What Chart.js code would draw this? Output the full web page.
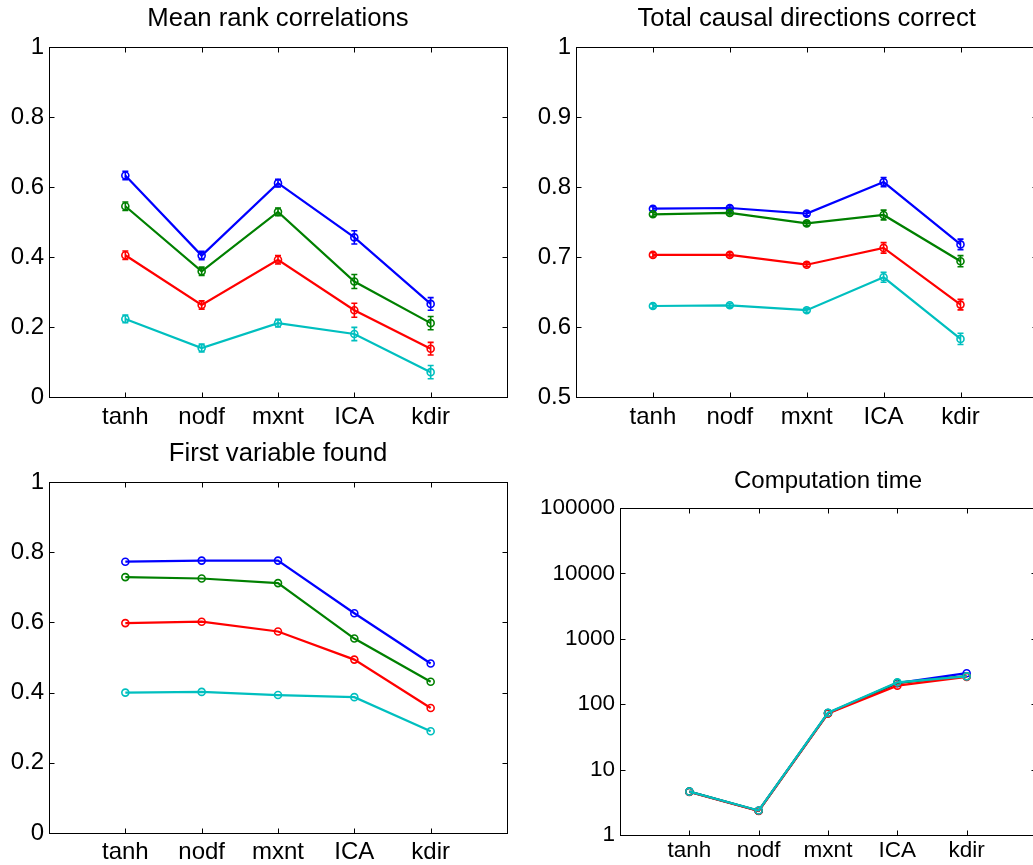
<!DOCTYPE html>
<html>
<head>
<meta charset="utf-8">
<script src="https://cdn.jsdelivr.net/npm/chart.js@4.4.0/dist/chart.umd.min.js"></script>
<style>
html,body{margin:0;padding:0;background:#fff;overflow:hidden;width:1033px;height:865px;position:relative;}
canvas{position:absolute;display:block;}
</style>
</head>
<body>
<canvas id="c1" width="520" height="430" style="left:0px;top:0px;width:520px;height:430px"></canvas>
<canvas id="c2" width="530" height="430" style="left:513px;top:0px;width:530px;height:430px"></canvas>
<canvas id="c3" width="520" height="435" style="left:0px;top:430px;width:520px;height:435px"></canvas>
<canvas id="c4" width="530" height="435" style="left:513px;top:430px;width:530px;height:435px"></canvas>
<script>
// ---------------- data ----------------
const categories = ['tanh', 'nodf', 'mxnt', 'ICA', 'kdir'];

// Mean rank correlations
const rankBlue  = [0.633, 0.404, 0.611, 0.456, 0.266];
const rankGreen = [0.545, 0.359, 0.529, 0.330, 0.211];
const rankRed   = [0.405, 0.263, 0.392, 0.248, 0.138];
const rankCyan  = [0.223, 0.140, 0.211, 0.180, 0.071];
const rankBlueErr  = [0.012, 0.012, 0.011, 0.019, 0.018];
const rankGreenErr = [0.012, 0.012, 0.011, 0.020, 0.019];
const rankRedErr   = [0.012, 0.012, 0.012, 0.020, 0.018];
const rankCyanErr  = [0.011, 0.011, 0.011, 0.019, 0.019];
const rankTicks = [0, 0.2, 0.4, 0.6, 0.8, 1];

// Total causal directions correct
const causalBlue  = [0.769, 0.770, 0.762, 0.807, 0.718];
const causalGreen = [0.761, 0.763, 0.748, 0.760, 0.694];
const causalRed   = [0.703, 0.703, 0.689, 0.713, 0.632];
const causalCyan  = [0.630, 0.631, 0.624, 0.671, 0.583];
const causalBlueErr  = [0.003, 0.003, 0.003, 0.0065, 0.0075];
const causalGreenErr = [0.003, 0.003, 0.003, 0.007, 0.008];
const causalRedErr   = [0.003, 0.003, 0.003, 0.0075, 0.0075];
const causalCyanErr  = [0.003, 0.003, 0.003, 0.007, 0.008];
const causalTicks = [0.5, 0.6, 0.7, 0.8, 0.9, 1];

// First variable found
const firstBlue  = [0.773, 0.776, 0.776, 0.626, 0.483];
const firstGreen = [0.729, 0.725, 0.712, 0.554, 0.431];
const firstRed   = [0.598, 0.602, 0.574, 0.494, 0.356];
const firstCyan  = [0.400, 0.402, 0.393, 0.387, 0.290];
const firstTicks = [0, 0.2, 0.4, 0.6, 0.8, 1];

// Computation time
const timeBlue  = [4.6, 2.35, 73, 210, 298];
const timeGreen = [4.6, 2.35, 73, 212, 268];
const timeRed   = [4.55, 2.33, 72, 192, 262];
const timeCyan  = [4.6, 2.37, 74, 216, 266];
const timeTicks = [1, 10, 100, 1000, 10000, 100000];

// ---------------- styling ----------------
const COLORS = ['#0000ff', '#008000', '#ff0000', '#00bfbf'];
const FONT = "'Liberation Sans', Helvetica, Arial, sans-serif";
Chart.defaults.color = '#000';
Chart.defaults.font.family = FONT;

const boxPlugin = {
  id: 'matlabBox',
  beforeDatasetsDraw(chart) {
    const ctx = chart.ctx, a = chart.chartArea, x = chart.scales.x, y = chart.scales.y;
    ctx.save();
    ctx.strokeStyle = '#000';
    ctx.lineWidth = 1;
    const L = Math.round(a.left) + 0.5, R = Math.round(a.right) + 0.5;
    const T = Math.round(a.top) + 0.5, B = Math.round(a.bottom) + 0.5;
    ctx.strokeRect(L, T, R - L, B - T);
    const tl = 5;
    ctx.beginPath();
    x.ticks.forEach(t => {
      const px = Math.round(x.getPixelForValue(t.value)) + 0.5;
      ctx.moveTo(px, B); ctx.lineTo(px, B - tl);
      ctx.moveTo(px, T); ctx.lineTo(px, T + tl);
    });
    y.ticks.forEach(t => {
      const py = Math.round(y.getPixelForValue(t.value)) + 0.5;
      ctx.moveTo(L, py); ctx.lineTo(L + tl, py);
      ctx.moveTo(R, py); ctx.lineTo(R - tl, py);
    });
    ctx.stroke();
    ctx.restore();
  }
};

const errorBarPlugin = {
  id: 'errorBars',
  afterDatasetDraw(chart, args) {
    const ds = chart.data.datasets[args.index];
    if (!ds.errors) return;
    const ctx = chart.ctx, y = chart.scales.y;
    ctx.save();
    ctx.strokeStyle = ds.borderColor;
    ctx.lineWidth = 1.6;
    ctx.beginPath();
    args.meta.data.forEach((pt, i) => {
      const v = ds.data[i].y, e = ds.errors[i];
      const y1 = y.getPixelForValue(v + e), y2 = y.getPixelForValue(v - e);
      const cx = pt.x, w = 3;
      ctx.moveTo(cx, y1); ctx.lineTo(cx, y2);
      ctx.moveTo(cx - w, y1); ctx.lineTo(cx + w, y1);
      ctx.moveTo(cx - w, y2); ctx.lineTo(cx + w, y2);
    });
    ctx.stroke();
    ctx.restore();
  }
};

function makeDatasets(seriesList, errList) {
  return seriesList.map((vals, k) => ({
    data: vals.map((v, i) => ({ x: i + 1, y: v })),
    errors: errList ? errList[k] : null,
    order: seriesList.length - k,
    borderColor: COLORS[k],
    backgroundColor: COLORS[k],
    borderWidth: 2.2,
    pointRadius: 3.5,
    pointBorderWidth: 1.6,
    pointBackgroundColor: 'rgba(0,0,0,0)',
    pointBorderColor: COLORS[k],
    tension: 0,
    fill: false
  }));
}

function makePanel(id, opt) {
  new Chart(document.getElementById(id), {
    type: 'line',
    data: { datasets: makeDatasets(opt.series, opt.errors) },
    options: {
      responsive: false,
      animation: false,
      devicePixelRatio: 1,
      layout: { padding: { left: 0, top: 0, bottom: 0, right: opt.padRight } },
      plugins: {
        legend: { display: false },
        tooltip: { enabled: false },
        title: {
          display: true,
          text: opt.title,
          color: '#000',
          fullSize: false,
          font: { size: opt.titleSize, weight: 'normal', family: FONT, lineHeight: 1 },
          padding: { top: opt.titleTop, bottom: opt.titleBottom }
        }
      },
      scales: {
        x: {
          type: 'linear',
          min: 0, max: 6,
          grid: { display: false, drawTicks: false },
          border: { display: false },
          afterBuildTicks: s => { s.ticks = categories.map((c, i) => ({ value: i + 1 })); },
          afterFit: s => { s.height = opt.xHeight; },
          ticks: {
            padding: opt.xPad,
            maxRotation: 0, minRotation: 0, autoSkip: false,
            font: { size: opt.tickSize, family: FONT, lineHeight: 1 },
            color: '#000',
            callback: v => categories[Math.round(v) - 1]
          }
        },
        y: {
          type: opt.log ? 'logarithmic' : 'linear',
          min: opt.yTicks[0], max: opt.yTicks[opt.yTicks.length - 1],
          grid: { display: false, drawTicks: false },
          border: { display: false },
          afterBuildTicks: s => { s.ticks = opt.yTicks.map(v => ({ value: v })); },
          afterFit: s => { s.width = opt.yWidth; },
          ticks: {
            padding: 5,
            autoSkip: false,
            font: { size: opt.tickSize, family: FONT, lineHeight: 1 },
            color: '#000',
            callback: v => String(v)
          }
        }
      }
    },
    plugins: [boxPlugin, errorBarPlugin]
  });
}

makePanel('c1', {
  title: 'Mean rank correlations', titleSize: 25.7, titleTop: 6.2, titleBottom: 15.1,
  tickSize: 24, yWidth: 49, xHeight: 33, xPad: 8, padRight: 13,
  yTicks: rankTicks,
  series: [rankBlue, rankGreen, rankRed, rankCyan],
  errors: [rankBlueErr, rankGreenErr, rankRedErr, rankCyanErr]
});
makePanel('c2', {
  title: 'Total causal directions correct', titleSize: 25.7, titleTop: 6.2, titleBottom: 15.1,
  tickSize: 24, yWidth: 63, xHeight: 33, xPad: 8, padRight: 5,
  yTicks: causalTicks,
  series: [causalBlue, causalGreen, causalRed, causalCyan],
  errors: [causalBlueErr, causalGreenErr, causalRedErr, causalCyanErr]
});
makePanel('c3', {
  title: 'First variable found', titleSize: 25.7, titleTop: 10.7, titleBottom: 15.6,
  tickSize: 24, yWidth: 49, xHeight: 32, xPad: 7, padRight: 13,
  yTicks: firstTicks,
  series: [firstBlue, firstGreen, firstRed, firstCyan],
  errors: null
});
makePanel('c4', {
  title: 'Computation time', titleSize: 24, titleTop: 39.3, titleBottom: 14.7,
  tickSize: 22.5, yWidth: 107, xHeight: 30, xPad: 5, padRight: 7, log: true,
  yTicks: timeTicks,
  series: [timeBlue, timeGreen, timeRed, timeCyan],
  errors: null
});
</script>
</body>
</html>
